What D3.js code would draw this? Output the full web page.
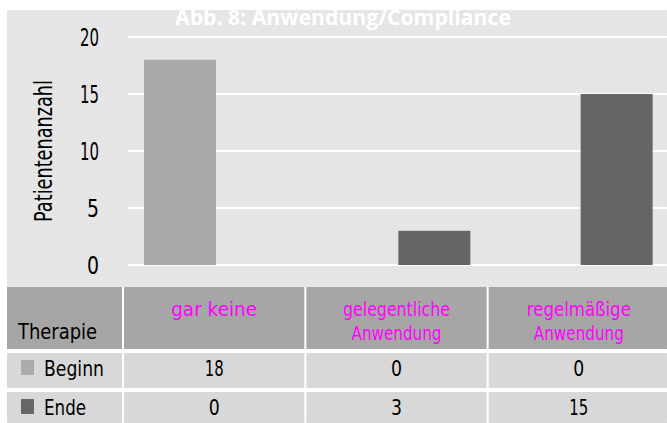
<!DOCTYPE html>
<html>
<head>
<meta charset="utf-8">
<script src="https://cdn.jsdelivr.net/npm/d3@7"></script>
<style>
  body { margin: 0; background: #fff; }
  text { font-family: "DejaVu Sans", sans-serif; }
</style>
</head>
<body>
<div id="chart"></div>
<script>
// data
var categories = ["gar keine", "gelegentliche Anwendung", "regelmäßige Anwendung"];
var catLines = [["gar keine"], ["gelegentliche", "Anwendung"], ["regelmäßige", "Anwendung"]];
var series = ["Beginn", "Ende"];
var beginn = [18, 0, 0];
var ende = [0, 3, 15];
var yTicks = [0, 5, 10, 15, 20];
var colors = ["#ababab", "#676767"];

var W = 667, H = 423;
var svg = d3.select("#chart").append("svg").attr("width", W).attr("height", H);

// dithered textures
var defs = svg.append("defs");
function pat(id, c1, c2) {
  var p = defs.append("pattern").attr("id", id).attr("width", 2).attr("height", 2)
    .attr("patternUnits", "userSpaceOnUse");
  p.append("rect").attr("width", 2).attr("height", 2).attr("fill", c1);
  p.append("rect").attr("width", 1).attr("height", 1).attr("fill", c2);
  p.append("rect").attr("x", 1).attr("y", 1).attr("width", 1).attr("height", 1).attr("fill", c2);
}
pat("bg", "#e9e9e9", "#e2e2e2");
pat("hd", "#aaaaaa", "#a2a2a2");
pat("rw", "#dddddd", "#d3d3d3");
pat("b0", "#adadad", "#a5a5a5");
pat("b1", "#686868", "#636363");

svg.append("rect").attr("x", 7).attr("y", 10).attr("width", W - 7).attr("height", 277).attr("fill", "url(#bg)");

var x0 = d3.scaleBand().domain(categories).range([122, 669]);
var x1 = d3.scaleBand().domain(series).range([22, 166]);
var y = d3.scaleLinear().domain([0, 20]).range([265, 37]);

// grid
svg.append("g").selectAll("line").data(yTicks).join("line")
  .attr("x1", 128).attr("x2", W)
  .attr("y1", function(d) { return y(d); }).attr("y2", function(d) { return y(d); })
  .attr("stroke", "#fff").attr("stroke-width", 2);

// axis
var ax = svg.append("g").attr("transform", "translate(99,0)")
  .call(d3.axisLeft(y).tickValues(yTicks).tickSize(0).tickPadding(0));
ax.select(".domain").remove();
ax.selectAll("text").attr("font-size", 25).attr("fill", "#000")
  .attr("textLength", function(d) { return d < 10 ? 12 : 19; }).attr("lengthAdjust", "spacingAndGlyphs");

svg.append("text").attr("transform", "translate(52,151) rotate(-90)")
  .attr("text-anchor", "middle").attr("font-size", 24)
  .attr("textLength", 142).attr("lengthAdjust", "spacingAndGlyphs").text("Patientenanzahl");

// bars
var vals = [beginn, ende];
series.forEach(function(s, si) {
  svg.append("g").selectAll("rect").data(categories).join("rect")
    .attr("x", function(c) { return x0(c) + x1(s); })
    .attr("width", x1.bandwidth())
    .attr("y", function(c, i) { return y(vals[si][i]); })
    .attr("height", function(c, i) { return y(0) - y(vals[si][i]); })
    .attr("fill", "url(#b" + si + ")");
});

// title
svg.append("text").attr("x", 343).attr("y", 25).attr("text-anchor", "middle")
  .attr("fill", "#fff").attr("font-weight", "bold").attr("font-size", 21)
  .style("font-family", "'Open Sans', sans-serif")
  .attr("textLength", 336).attr("lengthAdjust", "spacingAndGlyphs")
  .text("Abb. 8: Anwendung/Compliance");

// table
var rows = [{ y: 287, h: 62, fill: "url(#hd)" }, { y: 353, h: 35, fill: "url(#rw)" }, { y: 392, h: 31, fill: "url(#rw)" }];
rows.forEach(function(r) {
  svg.append("rect").attr("x", 7).attr("y", r.y).attr("width", 115).attr("height", r.h).attr("fill", r.fill);
  svg.append("g").selectAll("rect").data(categories).join("rect")
    .attr("x", function(c) { return x0(c) + 2; })
    .attr("y", r.y).attr("width", x0.bandwidth() - 2).attr("height", r.h).attr("fill", r.fill);
});

svg.append("text").attr("x", 18).attr("y", 339).attr("font-size", 21)
  .attr("textLength", 79).attr("lengthAdjust", "spacingAndGlyphs").text("Therapie");

var catW = [[86], [107, 90], [104, 90]];
svg.append("g").selectAll("text").data(categories).join("text")
  .attr("text-anchor", "middle").attr("font-size", 19).attr("fill", "#ff00ff")
  .each(function(c, i) {
    var t = d3.select(this);
    catLines[i].forEach(function(l, li) {
      t.append("tspan").attr("x", x0(c) + x0.bandwidth() / 2 + 1).attr("y", 316 + li * 24)
        .attr("textLength", catW[i][li]).attr("lengthAdjust", "spacingAndGlyphs").text(l);
    });
  });

var rowY = [376, 415];
var labW = [60, 42];
series.forEach(function(s, si) {
  svg.append("rect").attr("x", 21).attr("y", rowY[si] - 16).attr("width", 13).attr("height", 15)
    .attr("fill", colors[si]);
  svg.append("text").attr("x", 44).attr("y", rowY[si]).attr("font-size", 21)
    .attr("textLength", labW[si]).attr("lengthAdjust", "spacingAndGlyphs").text(s);
  svg.append("g").selectAll("text").data(categories).join("text")
    .attr("x", function(c) { return x0(c) + x0.bandwidth() / 2 + 1; })
    .attr("y", rowY[si]).attr("text-anchor", "middle").attr("font-size", 21)
    .attr("textLength", function(c, i) { return vals[si][i] < 10 ? 11 : 19; })
    .attr("lengthAdjust", "spacingAndGlyphs")
    .text(function(c, i) { return vals[si][i]; });
});
</script>
</body>
</html>
